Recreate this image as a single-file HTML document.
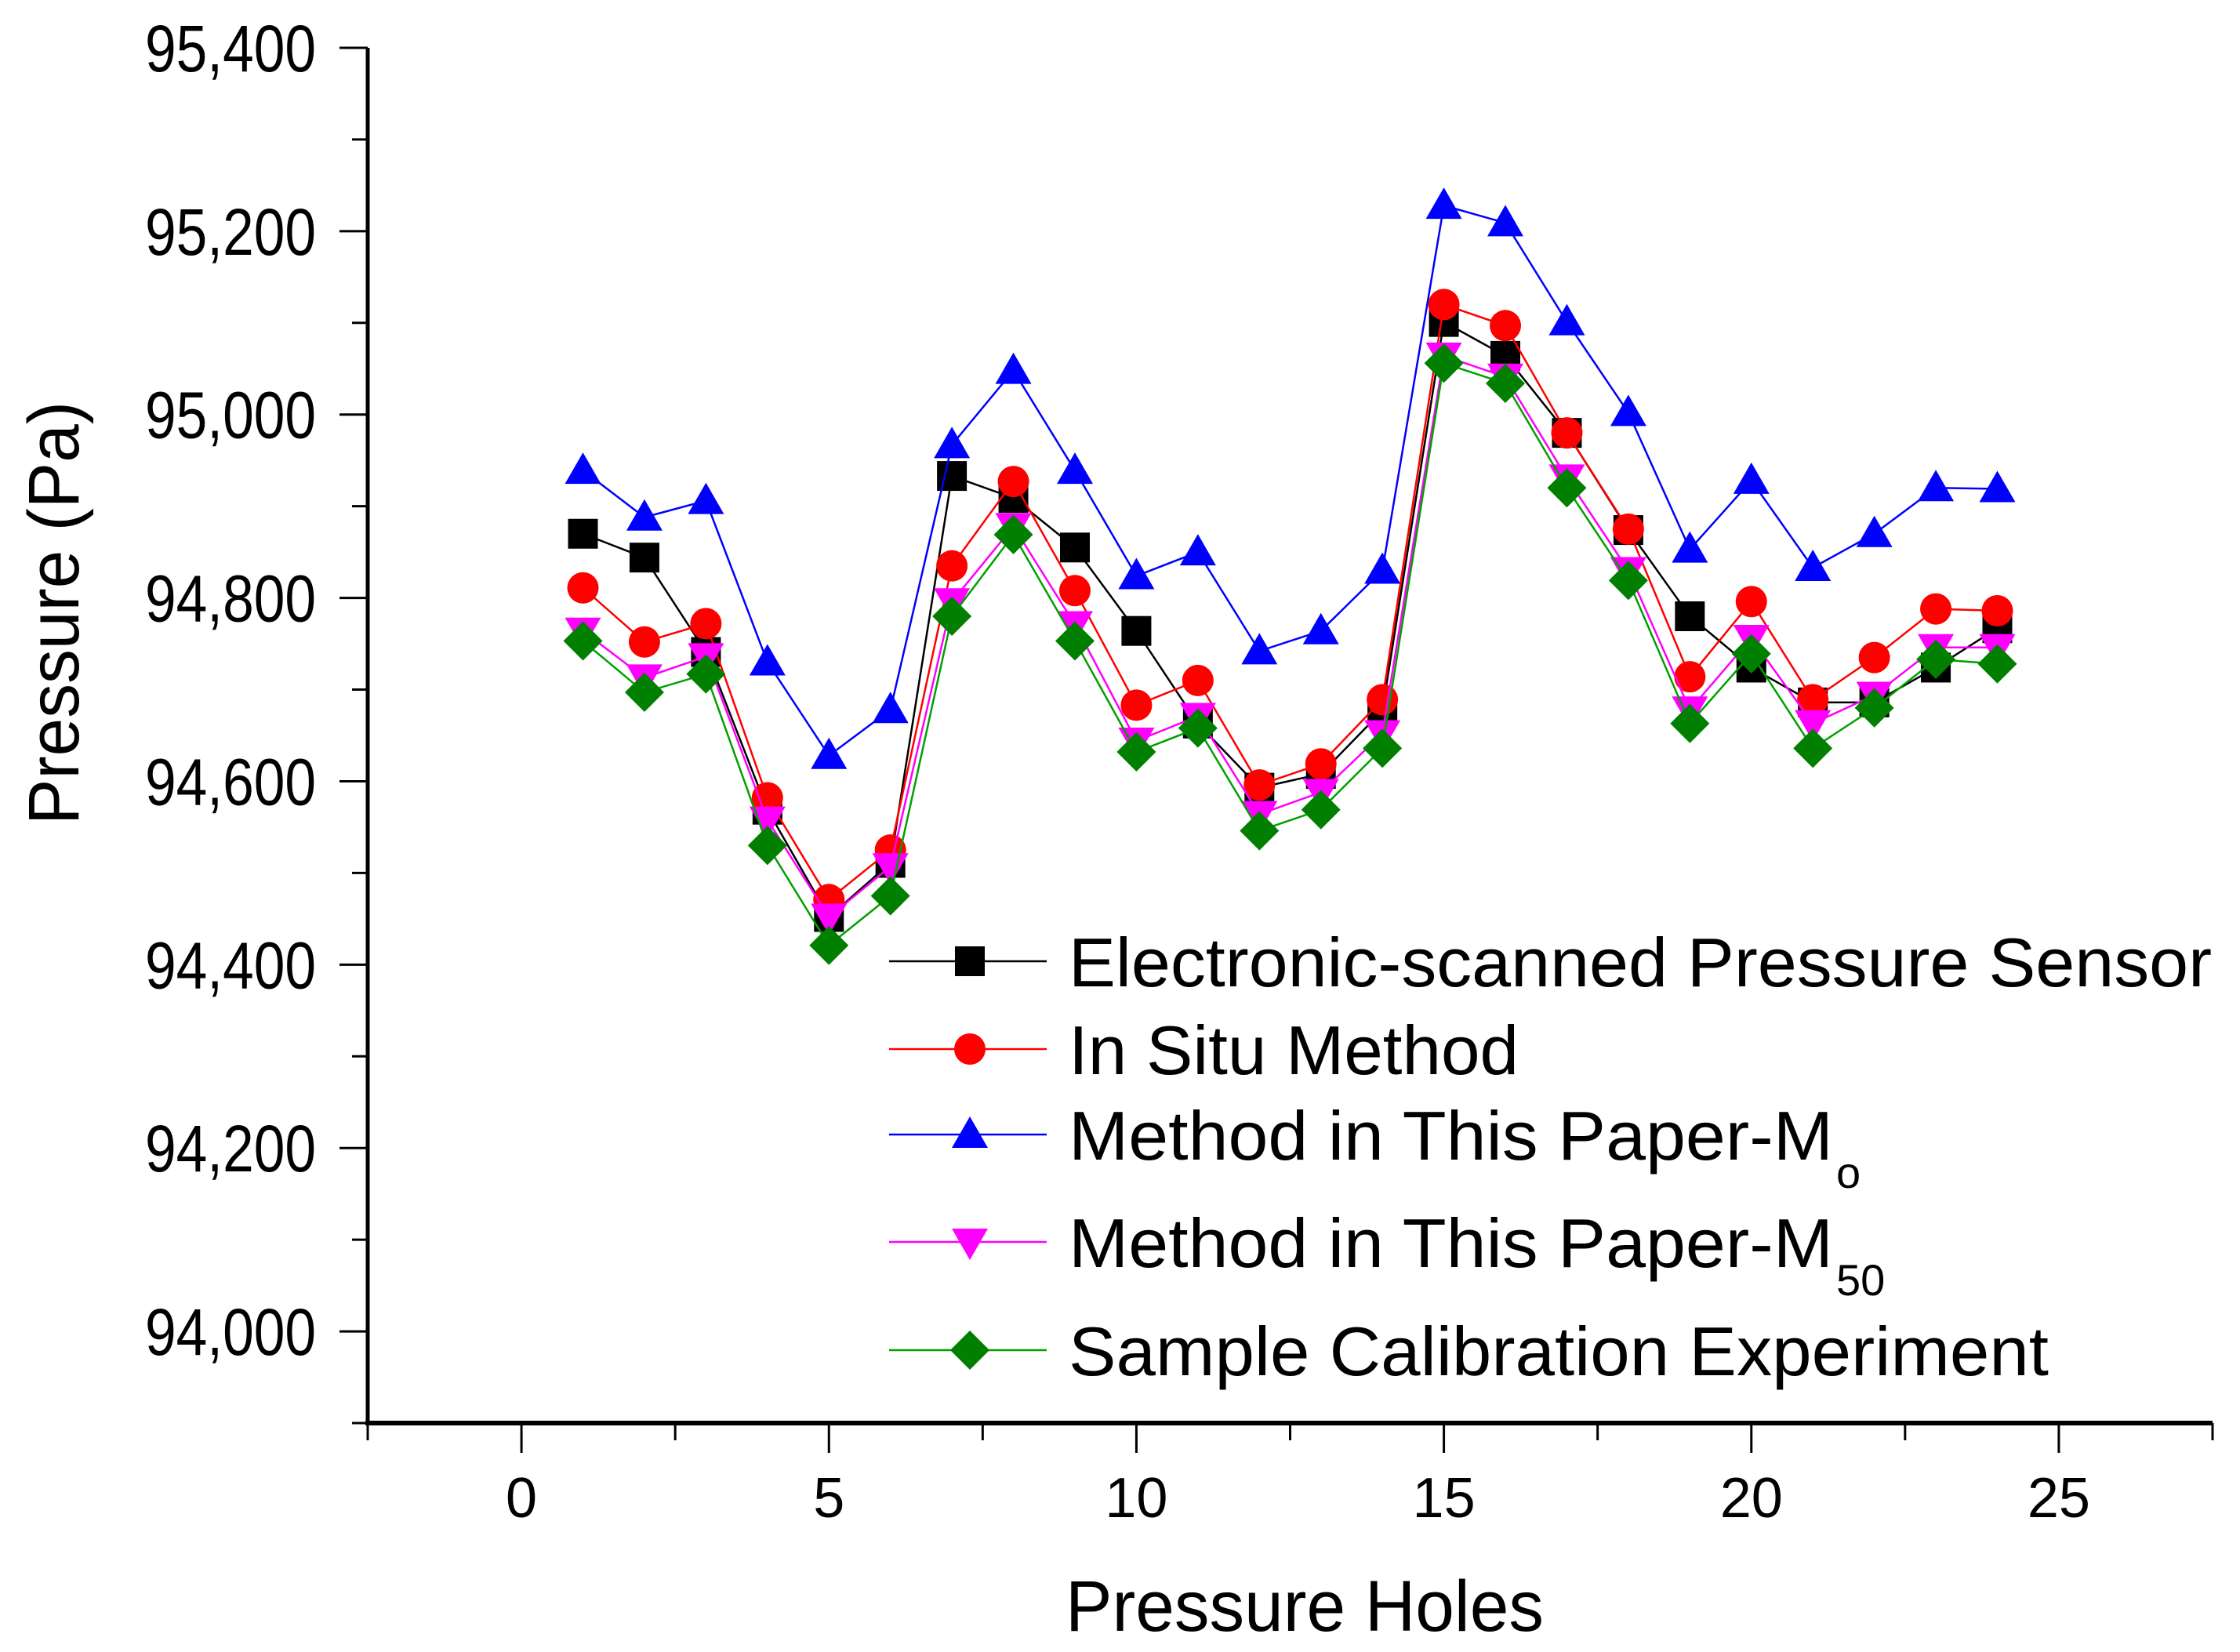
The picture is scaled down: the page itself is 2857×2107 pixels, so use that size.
<!DOCTYPE html>
<html><head><meta charset="utf-8"><style>
html,body{margin:0;padding:0;background:#fff;}
svg{display:block;font-family:"Liberation Sans",sans-serif;}
</style></head><body>
<svg id="chart" width="2857" height="2107" viewBox="0 0 2857 2107" xmlns="http://www.w3.org/2000/svg">
<g id="axes"></g>
<g id="series"></g>
<g id="legend"></g>
<text x="0" y="0" transform="translate(100,782) rotate(-90)" text-anchor="middle" font-size="92" fill="#000" textLength="540" lengthAdjust="spacingAndGlyphs">Pressure (Pa)</text>
<text x="1664" y="2080" text-anchor="middle" font-size="92" fill="#000" textLength="610" lengthAdjust="spacingAndGlyphs">Pressure Holes</text>
</svg>
<script>
const holes = [1,2,3,4,5,6,7,8,9,10,11,12,13,14,15,16,17,18,19,20,21,22,23,24];
const electronic = [94870,94844,94741,94569,94452,94511,94933,94909,94855,94764,94663,94593,94608,94677,95101,95064,94980,94874,94780,94724,94686,94686,94724,94767];
const inSitu = [94811,94752,94772,94582,94471,94525,94835,94927,94808,94683,94710,94596,94619,94689,95120,95097,94980,94875,94714,94796,94689,94735,94788,94786];
const methodM0 = [94939,94888,94906,94730,94628,94678,94967,95048,94939,94824,94850,94742,94764,94830,95228,95209,95101,95002,94853,94928,94833,94870,94920,94919];
const methodM50 = [94764,94713,94736,94558,94452,94507,94796,94878,94771,94644,94671,94564,94588,94652,95064,95041,94931,94830,94678,94756,94663,94694,94746,94746];
const sampleCal = [94753,94697,94717,94530,94421,94475,94780,94869,94753,94632,94658,94546,94569,94636,95056,95034,94920,94819,94663,94739,94636,94680,94733,94728];
const yTicks = [94000,94200,94400,94600,94800,95000,95200,95400];
const yTickLabels = ["94,000","94,200","94,400","94,600","94,800","95,000","95,200","95,400"];
const xTicks = [0,5,10,15,20,25];
const xTickLabels = ["0","5","10","15","20","25"];

const NS="http://www.w3.org/2000/svg";
const X0=469,X1=2822,Y0=1815,Y1=61;
const xmin=-2.5,xmax=27.5,ymin=93900,ymax=95400;
function sx(v){return X0+(v-xmin)/(xmax-xmin)*(X1-X0);}
function sy(v){return Y0-(v-ymin)/(ymax-ymin)*(Y0-Y1);}
function mk(tag,attrs,parent){const e=document.createElementNS(NS,tag);for(const k in attrs)e.setAttribute(k,attrs[k]);parent.appendChild(e);return e;}
const axes=document.getElementById('axes');
let e;
e=mk('line',{x1:X0,y1:Y0,x2:X0,y2:Y1,stroke:'#000','stroke-width':5},axes);


e=mk('line',{x1:X0-3,y1:Y0,x2:X1,y2:Y0,stroke:'#000','stroke-width':6},axes);


for(let v=93900;v<=95400;v+=100){
  const major=(v%200===0);
  e=mk('line',{x1:X0-(major?36:20),y1:sy(v),x2:X0,y2:sy(v),stroke:'#000','stroke-width':3},axes);
  
  
}
yTicks.forEach((v,i)=>{
  e=mk('text',{x:403,y:sy(v)+30,'text-anchor':'end','font-size':84,textLength:218,lengthAdjust:'spacingAndGlyphs',fill:'#000'},axes);
  e.textContent=yTickLabels[i];
  
  
});
for(let v=-2.5;v<=27.5;v+=2.5){
  const major=(Math.abs(v%5)<1e-9);
  e=mk('line',{x1:sx(v),y1:Y0,x2:sx(v),y2:Y0+(major?38:22),stroke:'#000','stroke-width':3},axes);
  
  
}
xTicks.forEach((v,i)=>{
  e=mk('text',{x:sx(v),y:1935,'text-anchor':'middle','font-size':72,fill:'#000'},axes);
  e.textContent=xTickLabels[i];
  
  
});
function marker(shape,cx,cy,color,g){
  const s=19;let m;
  if(shape==='square')m=mk('rect',{x:cx-s,y:cy-s,width:2*s,height:2*s,fill:color},g);
  else if(shape==='circle')m=mk('circle',{cx:cx,cy:cy,r:s+1,fill:color},g);
  else if(shape==='up')m=mk('polygon',{points:`${cx},${cy-s-4} ${cx+s+4},${cy+s-2} ${cx-s-4},${cy+s-2}`,fill:color},g);
  else if(shape==='down')m=mk('polygon',{points:`${cx},${cy+s+4} ${cx+s+4},${cy-s+2} ${cx-s-4},${cy-s+2}`,fill:color},g);
  else m=mk('polygon',{points:`${cx},${cy-s-6} ${cx+s+6},${cy} ${cx},${cy+s+6} ${cx-s-6},${cy}`,fill:color},g);
  return m;
}
const seriesList=[
 {vals:electronic,color:'#000000',line:'#000000',shape:'square',name:'electronic-scanned-series'},
 {vals:inSitu,color:'#ff0000',line:'#ff0000',shape:'circle',name:'in-situ-series'},
 {vals:methodM0,color:'#0000ff',line:'#0000ff',shape:'up',name:'method-m0-series'},
 {vals:methodM50,color:'#ff00ff',line:'#ff00ff',shape:'down',name:'method-m50-series'},
 {vals:sampleCal,color:'#007f00',line:'#00a000',shape:'diamond',name:'sample-calibration-series'}
];
const sg=document.getElementById('series');
seriesList.forEach(s=>{
  const g=mk('g',{},sg);
  
  
  const pts=holes.map((h,i)=>sx(h)+','+sy(s.vals[i])).join(' ');
  const pl=mk('polyline',{points:pts,fill:'none',stroke:s.line,'stroke-width':2.5},g);
  
  
  holes.forEach((h,i)=>{
    const m=marker(s.shape,sx(h),sy(s.vals[i]),s.color,g);
    
    
  });
});
const lg=document.getElementById('legend');
const legendRows=[1226,1338,1447,1584,1722];
const legendTexts=[
 ['Electronic-scanned Pressure Sensor',''],
 ['In Situ Method',''],
 ['Method in This Paper-M','o'],
 ['Method in This Paper-M','50'],
 ['Sample Calibration Experiment','']
];
const legendLens=[1458,574,975,975,1250];
seriesList.forEach((s,i)=>{
  const y=legendRows[i];
  const g=mk('g',{},lg);
  
  
  mk('line',{x1:1134,y1:y,x2:1335,y2:y,stroke:s.line,'stroke-width':2.5},g);
  marker(s.shape,1237,y,s.color,g);
  const t=mk('text',{x:1363,y:y+32,'font-size':88,fill:'#000',textLength:legendLens[i],lengthAdjust:'spacingAndGlyphs'},g);
  t.textContent=legendTexts[i][0];
  if(legendTexts[i][1]){
    const sub=mk('text',{x:1363+legendLens[i]+4,y:y+68,'font-size':56,fill:'#000'},g);
    sub.textContent=legendTexts[i][1];
  }
});
</script>
</body></html>
